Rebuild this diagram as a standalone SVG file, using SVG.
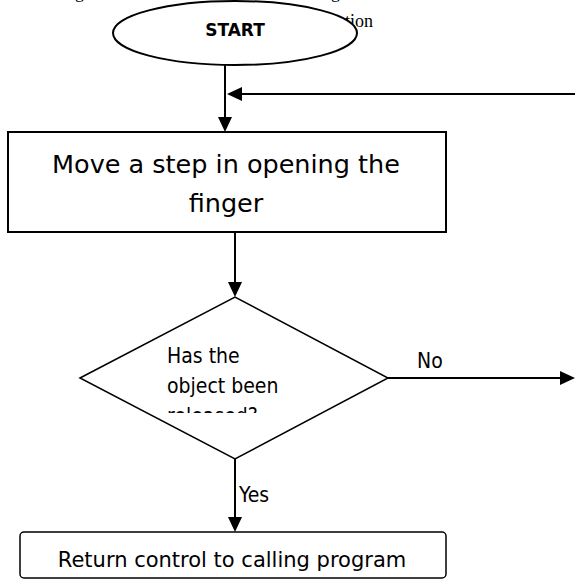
<svg xmlns="http://www.w3.org/2000/svg" width="575" height="580" viewBox="0 0 575 580">
  <style>
    .shape { fill: #fff; stroke: #000; }
    .line { fill: none; stroke: #000; stroke-width: 2; }
    .lbl { font-family: "DejaVu Sans", Verdana, sans-serif; fill: #000; }
    .small { font-family: "DejaVu Sans Condensed", "DejaVu Sans", sans-serif; font-stretch: condensed; font-size: 21px; fill: #000; }
    .bg { font-family: "Liberation Serif", "Times New Roman", serif; font-size: 18px; fill: #000; }
  </style>
  <defs>
    <marker id="arrow" viewBox="0 0 15 14" refX="0" refY="7" markerWidth="15" markerHeight="14" markerUnits="userSpaceOnUse" orient="auto">
      <path d="M0,0 L15,7 L0,14 z" fill="#000"/>
    </marker>
    <clipPath id="decisionClip">
      <rect x="150" y="340" width="150" height="73"/>
    </clipPath>
  </defs>

  <!-- surrounding page text, partly hidden behind the start oval -->
  <g id="page-text">
    <text class="bg" x="75" y="-2">g</text>
    <text class="bg" x="331" y="-2">g</text>
    <text class="bg" x="345" y="27">tion</text>
  </g>

  <g id="connectors">
    <path class="line" d="M225,65 V117" marker-end="url(#arrow)"/>
    <path class="line" d="M575,94 H242" marker-end="url(#arrow)"/>
    <path class="line" d="M235,232 V282" marker-end="url(#arrow)"/>
    <path class="line" d="M388,378 H560" marker-end="url(#arrow)"/>
    <path class="line" d="M235,459 V517" marker-end="url(#arrow)"/>
    <text class="small" x="417" y="368">No</text>
    <text class="small" x="239" y="502">Yes</text>
  </g>

  <g id="start">
    <ellipse class="shape" cx="235" cy="33" rx="122" ry="32" stroke-width="2"/>
    <text class="lbl" x="235" y="36" font-size="17" font-weight="bold" text-anchor="middle">START</text>
  </g>

  <g id="open-step">
    <rect class="shape" x="8" y="132" width="438" height="100" stroke-width="2"/>
    <text class="lbl" x="226" y="173" font-size="25.5" text-anchor="middle">Move a step in opening the</text>
    <text class="lbl" x="226" y="212" font-size="25.5" text-anchor="middle">finger</text>
  </g>

  <g id="released-check">
    <polygon class="shape" points="80,378 235,297 388,378 235,459" stroke-width="1.5"/>
    <g clip-path="url(#decisionClip)">
      <text class="small" x="167" y="363">Has the</text>
      <text class="small" x="167" y="393">object been</text>
      <text class="small" x="167" y="423">released?</text>
    </g>
  </g>

  <g id="return-control">
    <rect class="shape" x="20" y="532" width="426" height="46" rx="4" stroke-width="1.5"/>
    <text class="lbl" x="232" y="567" font-size="21" text-anchor="middle">Return control to calling program</text>
  </g>
</svg>
